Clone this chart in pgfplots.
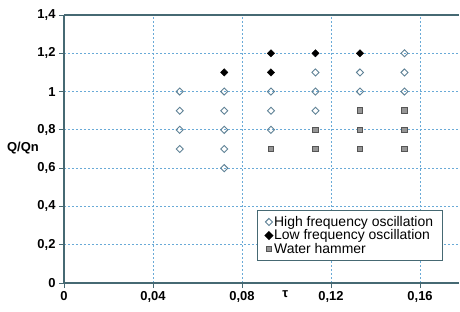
\documentclass[border=0pt]{standalone}
\usepackage{pgfplots}
\pgfplotsset{compat=1.18}
\usepackage{fontspec}
\setmainfont{Liberation Sans}
\definecolor{axiscol}{RGB}{70,105,115}
\definecolor{gridcol}{RGB}{105,170,215}
\definecolor{hfcol}{RGB}{95,130,150}
\definecolor{whfill}{RGB}{150,150,150}
\definecolor{whdraw}{RGB}{85,85,85}
\begin{document}
\begin{tikzpicture}
\begin{axis}[
  scale only axis, width=395bp, height=268bp,
  xmin=0, xmax=0.1775, ymin=0, ymax=1.4,
  axis x line*=bottom, axis y line*=left,
  axis line style={axiscol, line width=1.2bp},
  xtick={0,0.04,0.08,0.12,0.16},
  xticklabels={0,{0,04},{0,08},{0,12},{0,16}},
  ytick={0,0.2,0.4,0.6,0.8,1,1.2,1.4},
  yticklabels={0,{0,2},{0,4},{0,6},{0,8},1,{1,2},{1,4}},
  grid=major,
  major grid style={gridcol, dash pattern=on 2bp off 2bp, line width=0.9bp},
  tick align=outside, major tick length=5bp,
  tick style={axiscol, line width=0.9bp},
  tick label style={font=\fontsize{13}{15}\selectfont\bfseries},
  xlabel={τ},
  xlabel style={at={(axis description cs:0.56,0)}, anchor=north, yshift=-4bp, font=\fontsize{13}{15}\selectfont\bfseries},
  ylabel={Q/Qn},
  ylabel style={rotate=-90, anchor=center, at={(axis description cs:-0.104,0.504)}, font=\fontsize{13}{15}\selectfont\bfseries},
  legend style={at={(0.96,0.082)}, anchor=south east, draw=axiscol, line width=1.2bp, fill=white,
    font=\fontsize{14}{15}\selectfont, row sep=-1bp, inner xsep=8bp, inner ysep=4bp,
    nodes={inner sep=1.5bp}},
  legend cell align=left,
  legend image code/.code={\draw[mark repeat=2,mark phase=2] plot coordinates {(0cm,0cm) (0.15cm,0cm) (0.3cm,0cm)};},
]
\addplot[only marks, mark=square, mark size=2.5bp, mark options={draw=hfcol, fill=white, line width=0.9bp, rotate=45}]
  coordinates {
  (0.052,1.0) (0.052,0.9) (0.052,0.8) (0.052,0.7)
  (0.072,1.0) (0.072,0.9) (0.072,0.8) (0.072,0.7) (0.072,0.6)
  (0.093,1.0) (0.093,0.9) (0.093,0.8)
  (0.113,1.1) (0.113,1.0) (0.113,0.9)
  (0.133,1.1) (0.133,1.0)
  (0.153,1.2) (0.153,1.1) (0.153,1.0)
  };
\addlegendentry{High frequency oscillation}
\addplot[only marks, mark=square*, mark size=2.6bp, mark options={draw=black, fill=black, rotate=45}]
  coordinates {
  (0.072,1.1)
  (0.093,1.2) (0.093,1.1)
  (0.113,1.2)
  (0.133,1.2)
  };
\addlegendentry{Low frequency oscillation}
\addplot[only marks, mark=square*, mark size=2.8bp, mark options={draw=whdraw, fill=whfill, line width=0.9bp}]
  coordinates {
  (0.093,0.7)
  (0.113,0.8) (0.113,0.7)
  (0.133,0.9) (0.133,0.8) (0.133,0.7)
  (0.153,0.9) (0.153,0.8) (0.153,0.7)
  };
\addlegendentry{Water hammer}
\draw[axiscol, line width=1.4bp] (rel axis cs:0,1) -- (rel axis cs:1,1);
\end{axis}
\pgfresetboundingbox
\path ([shift={(-64bp,-29bp)}]current axis.south west) rectangle ++(460bp,312bp);
\end{tikzpicture}
\end{document}
